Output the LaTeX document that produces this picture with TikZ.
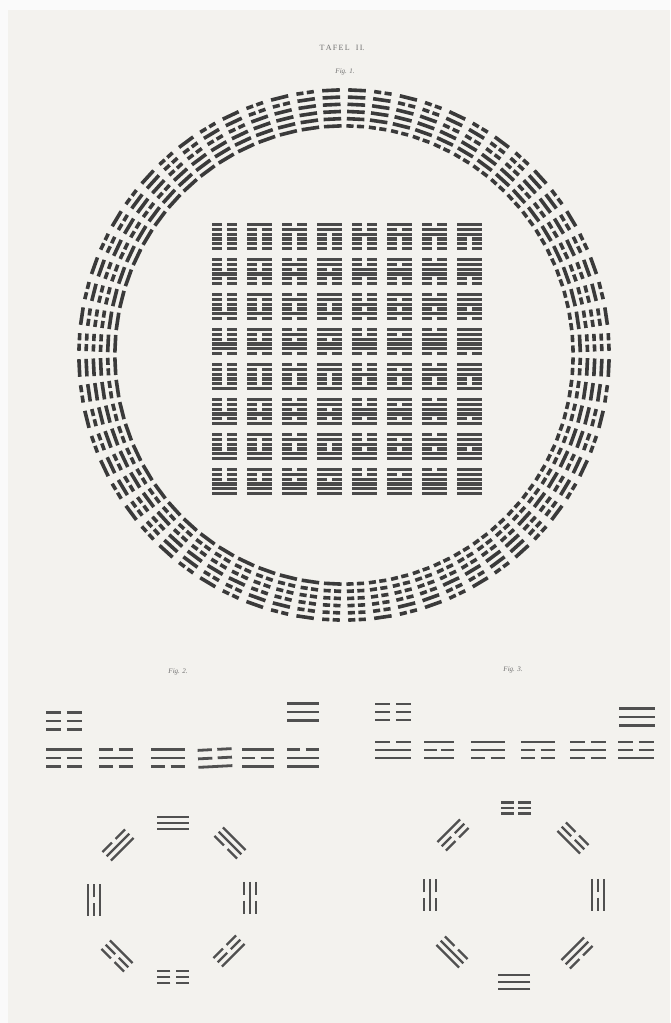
\documentclass[tikz,border=0pt]{standalone}
\usepackage{fontspec}
\setmainfont{Liberation Serif}
\definecolor{paper}{HTML}{F3F2EE}
\definecolor{outer}{HTML}{FAFAFA}
\definecolor{ink}{HTML}{3A3A3A}
\definecolor{inksq}{HTML}{4A4A4A}
\definecolor{inklo}{HTML}{505050}
\definecolor{faint}{HTML}{6E6E6E}
\tikzset{
  ringline/.style={draw=ink,line width=3.6pt},
  sqline/.style={draw=inksq,line width=3.1pt},
  triline/.style={draw=inklo,line width=2.8pt},
  cirline/.style={draw=inklo,line width=2.3pt},
  lbl/.style={text=faint,inner sep=0pt,font=\fontsize{7}{8}\selectfont},
}
% trigram: cx, cy (tikz coords), rotation, half width, pitch, style, bottom, middle, top
\newcommand{\trig}[9]{%
  \begin{scope}[shift={(#1,#2)},rotate=#3]
    \foreach \yy/\bb in {-#5/#7,0/#8,#5/#9}{%
      \ifnum\bb=1
        \draw[#6] (-#4,\yy) -- (#4,\yy);
      \else
        \draw[#6] (-#4,\yy) -- ({-0.16*#4},\yy) ({0.16*#4},\yy) -- (#4,\yy);
      \fi
    }
  \end{scope}}
\begin{document}
\begin{tikzpicture}[x=1pt,y=1pt]
\useasboundingbox (0,0) rectangle (670,1023);
\fill[outer] (0,0) rectangle (670,1023);
\fill[paper] (8,0) rectangle (670,1013);
% title
\node[lbl,font=\fontsize{8}{9}\selectfont] (title) at (342,975) {T\,A\,F\,E\,L\ \ \ I\,I.};
\node[lbl,font=\itshape\fontsize{7}{8}\selectfont] (fig1) at (345,951) {Fig. 1.};
\node[lbl,font=\itshape\fontsize{7}{8}\selectfont] (fig2) at (178,351) {Fig. 2.};
\node[lbl,font=\itshape\fontsize{7}{8}\selectfont] (fig3) at (513,353) {Fig. 3.};
% ring of 64 hexagrams
\foreach \v in {0,...,63}{
  \pgfmathsetmacro\ang{\v>31 ? 90+(63-\v+0.5)*5.625 : 90-(31-\v+0.5)*5.625}
  \begin{scope}[shift={(344,668)},rotate=\ang-90]
    \foreach \i in {0,...,5}{
      \pgfmathtruncatemacro\bit{mod(floor(\v/(2^(5-\i))),2)}
      \pgfmathsetmacro\rr{229+7.2*\i}
      \ifnum\bit=1
        \draw[ringline] (-8.8,\rr) -- (8.8,\rr);
      \else
        \draw[ringline] (-8.8,\rr) -- (-1.7,\rr) (1.7,\rr) -- (8.8,\rr);
      \fi
    }
  \end{scope}
}
% square 8x8
\foreach \r in {0,...,7}{
  \foreach \c in {0,...,7}{
    \pgfmathtruncatemacro\v{8*\r+\c}
    \pgfmathsetmacro\xl{212+35*\c}
    \pgfmathsetmacro\xr{\xl+25}
    \pgfmathsetmacro\xa{\xl+10}
    \pgfmathsetmacro\xb{\xl+15}
    \foreach \i in {0,...,5}{
      \pgfmathtruncatemacro\bit{mod(floor(\v/(2^(5-\i))),2)}
      \pgfmathsetmacro\yy{1023-(223+35*\r+1.6+(5-\i)*4.8)}
      \ifnum\bit=1
        \draw[sqline] (\xl,\yy) -- (\xr,\yy);
      \else
        \draw[sqline] (\xl,\yy) -- (\xa,\yy) (\xb,\yy) -- (\xr,\yy);
      \fi
    }
  }
}
% Fig. 2 row (bottom, middle, top)
\trig{64}{302}{0}{18}{8.5}{triline}{0}{0}{0}
\trig{303}{311}{0}{16}{8.5}{triline}{1}{1}{1}
\trig{64}{265}{0}{18}{8.5}{triline}{0}{0}{1}
\trig{116}{265}{0}{17}{8.5}{triline}{0}{1}{0}
\trig{168}{265}{0}{17}{8.5}{triline}{0}{1}{1}
\trig{215}{265}{3}{17}{8.5}{triline}{1}{0}{0}
\trig{258}{265}{0}{16}{8.5}{triline}{1}{0}{1}
\trig{303}{265}{0}{16}{8.5}{triline}{1}{1}{0}
% Fig. 3 row
\trig{393}{311}{0}{18}{8}{triline}{0}{0}{0}
\trig{637}{306}{0}{18}{8.5}{triline}{1}{1}{1}
\trig{393}{273}{0}{18}{8}{triline}{1}{1}{0}
\trig{439}{273}{0}{15}{8}{triline}{1}{0}{1}
\trig{488}{273}{0}{17}{8}{triline}{0}{1}{1}
\trig{538}{273}{0}{17}{8}{triline}{0}{0}{1}
\trig{588}{273}{0}{18}{8}{triline}{0}{1}{0}
\trig{636}{273}{0}{18}{8}{triline}{1}{0}{0}
% Fig. 2 circle (centre 173,123)
\begin{scope}[shift={(173,123)}]
  \trig{0}{77}{0}{16}{6}{cirline}{1}{1}{1}
  \trig{-55}{55}{45}{16}{6}{cirline}{1}{1}{0}
  \trig{-79}{0}{90}{16}{6}{cirline}{1}{0}{1}
  \trig{-56}{-56}{135}{16}{6}{cirline}{1}{0}{0}
  \trig{0}{-77}{180}{16}{6}{cirline}{0}{0}{0}
  \trig{56}{-51}{225}{16}{6}{cirline}{0}{0}{1}
  \trig{77}{2}{270}{16}{6}{cirline}{0}{1}{0}
  \trig{57}{57}{315}{16}{6}{cirline}{0}{1}{1}
\end{scope}
% Fig. 3 circle (centre 514,128)
\begin{scope}[shift={(514,128)}]
  \trig{2}{87}{0}{15}{5.5}{cirline}{0}{0}{0}
  \trig{-61}{60}{45}{16}{6}{cirline}{0}{0}{1}
  \trig{-84}{0}{90}{16}{6}{cirline}{0}{1}{0}
  \trig{-62}{-57}{135}{16}{6}{cirline}{0}{1}{1}
  \trig{0}{-87}{180}{16}{7}{cirline}{1}{1}{1}
  \trig{63}{-58}{225}{16}{6}{cirline}{1}{1}{0}
  \trig{84}{0}{270}{16}{6}{cirline}{1}{0}{1}
  \trig{59}{57}{315}{16}{6}{cirline}{1}{0}{0}
\end{scope}
\end{tikzpicture}
\end{document}
